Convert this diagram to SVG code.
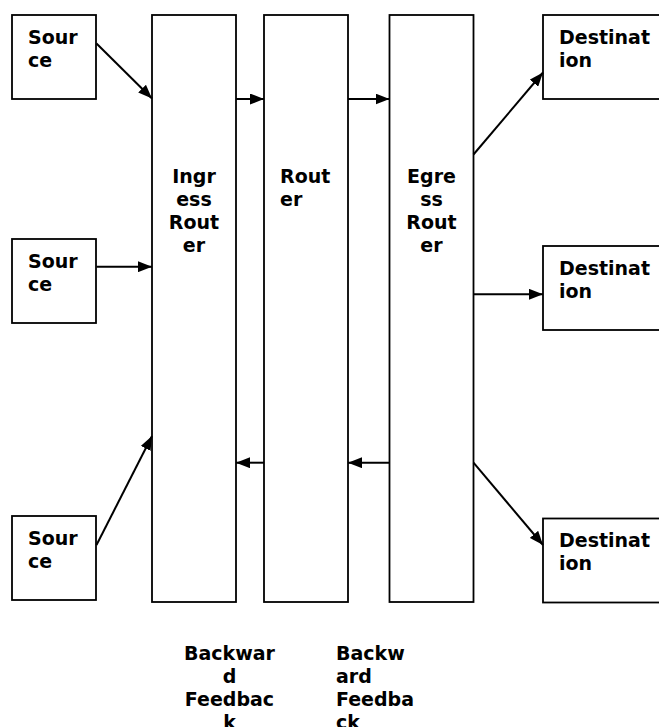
<svg xmlns="http://www.w3.org/2000/svg" width="659" height="727" viewBox="0 0 659 727">
<defs>
<marker id="ah" markerUnits="userSpaceOnUse" markerWidth="14" markerHeight="11" refX="14" refY="5.5" orient="auto">
<path d="M0,0 L14,5.5 L0,11 z" fill="#000"/>
</marker>
<style>
.box{fill:#fff;stroke:#000;stroke-width:1.8}
.t{font-family:"DejaVu Sans","Verdana",sans-serif;font-weight:bold;font-size:19px;fill:#000}
.c{text-anchor:middle}
.edge{stroke:#000;stroke-width:2;fill:none;marker-end:url(#ah)}
</style>
</defs>
<rect width="659" height="727" fill="#fff"/>
<g id="source1"><rect class="box" x="12" y="15" width="84" height="84"/><text class="t" x="28" y="44">Sour</text><text class="t" x="28" y="67">ce</text></g>
<g id="source2"><rect class="box" x="12" y="239" width="84" height="84"/><text class="t" x="28" y="268">Sour</text><text class="t" x="28" y="291">ce</text></g>
<g id="source3"><rect class="box" x="12" y="516" width="84" height="84"/><text class="t" x="28" y="544.5">Sour</text><text class="t" x="28" y="567.5">ce</text></g>
<g id="ingress"><rect class="box" x="152" y="15" width="84" height="587"/><text class="t c" x="194" y="183">Ingr</text><text class="t c" x="194" y="206">ess</text><text class="t c" x="194" y="229">Rout</text><text class="t c" x="194" y="252">er</text></g>
<g id="router"><rect class="box" x="264" y="15" width="84" height="587"/><text class="t" x="280" y="183">Rout</text><text class="t" x="280" y="206">er</text></g>
<g id="egress"><rect class="box" x="389.5" y="15" width="84" height="587"/><text class="t c" x="431.5" y="183">Egre</text><text class="t c" x="431.5" y="206">ss</text><text class="t c" x="431.5" y="229">Rout</text><text class="t c" x="431.5" y="252">er</text></g>
<g id="dest1"><rect class="box" x="543" y="15" width="130" height="84"/><text class="t" x="559" y="44">Destinat</text><text class="t" x="559" y="67">ion</text></g>
<g id="dest2"><rect class="box" x="543" y="246" width="130" height="84"/><text class="t" x="559" y="275">Destinat</text><text class="t" x="559" y="298">ion</text></g>
<g id="dest3"><rect class="box" x="543" y="518.5" width="130" height="84"/><text class="t" x="559" y="547">Destinat</text><text class="t" x="559" y="570">ion</text></g>
<g id="label-bf1"><text class="t c" x="229.5" y="660">Backwar</text><text class="t c" x="229.5" y="683">d</text><text class="t c" x="229.5" y="706">Feedbac</text><text class="t c" x="229.5" y="729">k</text></g>
<g id="label-bf2"><text class="t" x="336" y="660">Backw</text><text class="t" x="336" y="683">ard</text><text class="t" x="336" y="706">Feedba</text><text class="t" x="336" y="729">ck</text></g>
<g id="connectors">
<line class="edge" x1="96.5" y1="43.5" x2="152" y2="98.5"/>
<line class="edge" x1="96.5" y1="266.7" x2="152" y2="266.7"/>
<line class="edge" x1="96.5" y1="545" x2="152" y2="436"/>
<line class="edge" x1="236" y1="99" x2="264" y2="99"/>
<line class="edge" x1="348" y1="99" x2="389.5" y2="99"/>
<line class="edge" x1="473.5" y1="154.5" x2="543" y2="72.5"/>
<line class="edge" x1="473.5" y1="294.3" x2="543" y2="294.3"/>
<line class="edge" x1="473.5" y1="462.7" x2="543" y2="545"/>
<line class="edge" x1="264" y1="462.7" x2="236" y2="462.7"/>
<line class="edge" x1="389.5" y1="462.7" x2="348" y2="462.7"/>
</g>
</svg>
